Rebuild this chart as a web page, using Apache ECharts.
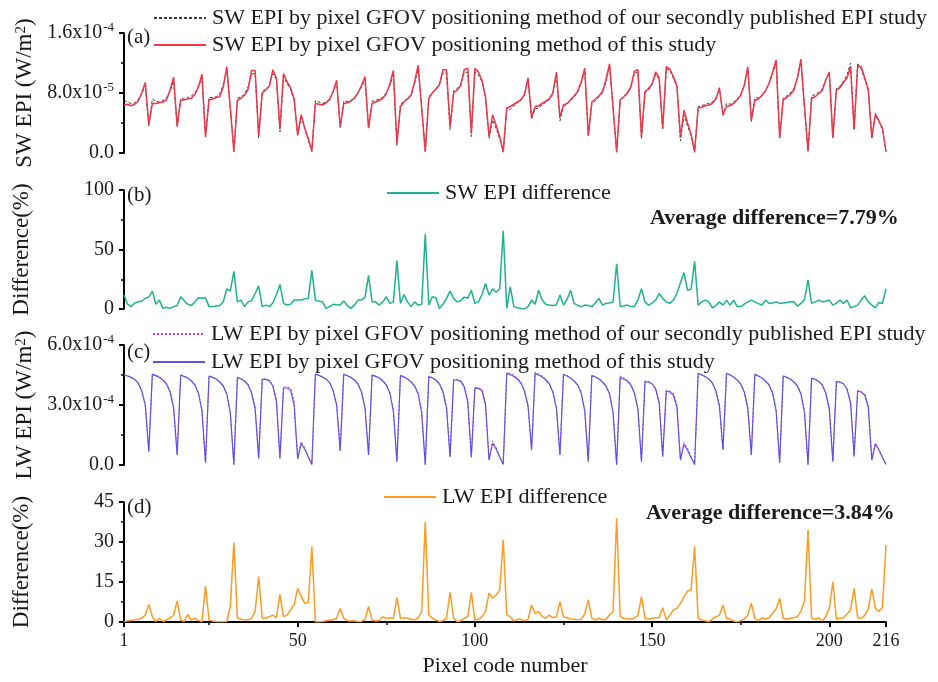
<!DOCTYPE html>
<html>
<head>
<meta charset="utf-8">
<script src="https://cdn.jsdelivr.net/npm/echarts@6/dist/echarts.min.js"></script>
<style>
  html, body { margin: 0; background: #fff; }
  #chart { width: 938px; height: 682px; }
</style>
</head>
<body>
<div id="chart"></div>
<script>
// pixel code numbers 1..216 (x positions)
const pixelCodes = Array.from({ length: 216 }, (_, i) => i + 1);
const xLabels = [1, 50, 100, 150, 200, 216];
const xMinorTicks = [25, 75, 125, 175];

// (a) SW EPI, units of 1e-5 W/m2 — secondly published study (dashed)
const swPrev = [
  7.0, 6.8, 6.6, 6.7, 7.1, 7.9, 9.0, 3.6,  7.2, 6.9, 6.8, 7.0, 7.4, 8.2, 9.6, 3.5,
  7.3, 7.2, 7.4, 7.6, 8.0, 8.9, 10.0, 2.2,  7.4, 7.4, 7.5, 7.9, 9.1, 11.0, 6.0, 0.2,
  7.3, 7.5, 7.8, 8.8, 10.5, 10.6, 2.0,  8.2, 8.5, 9.0, 10.6, 9.8, 2.8,
  10.2, 9.3, 8.5, 7.0, 2.3,  5.0, 3.2, 1.7, 0.2,
  7.0, 6.8, 6.6, 6.8, 7.2, 8.1, 9.4, 3.4,  6.9, 6.9, 7.0, 7.4, 8.0, 8.8, 9.8, 3.4,
  6.9, 7.0, 7.2, 7.4, 8.0, 9.0, 10.4, 1.0,  6.5, 6.9, 7.3, 7.8, 9.3, 11.2, 5.9, 0.1,
  7.5, 8.0, 8.6, 9.2, 10.7, 10.6, 3.1,  8.3, 8.6, 9.1, 10.7, 10.8, 2.2,
  10.8, 10.4, 9.5, 7.3, 2.0,  4.4, 3.3, 1.9, 0.1,
  6.0, 5.8, 6.3, 6.7, 7.0, 7.7, 9.9, 4.5,  5.9, 6.0, 6.4, 6.8, 7.1, 7.9, 10.5, 4.3,
  6.2, 6.5, 7.0, 7.5, 8.1, 9.3, 11.0, 2.2,  6.6, 7.0, 7.5, 8.0, 9.5, 11.5, 5.8, 0.1,
  7.0, 7.4, 7.9, 8.7, 10.6, 10.8, 1.9,  8.0, 8.4, 9.1, 10.5, 9.8, 3.1,
  11.2, 11.0, 10.0, 8.8, 1.6,  5.0, 3.6, 2.3, 0.1,
  6.2, 6.3, 6.5, 6.6, 6.8, 7.3, 8.7, 5.0,  6.6, 6.5, 6.8, 7.2, 7.8, 9.0, 11.2, 4.2,
  7.3, 7.4, 7.6, 8.3, 9.2, 10.6, 12.0, 2.0,  7.3, 7.6, 8.0, 8.6, 10.0, 12.1, 6.0, 0.2,
  7.6, 7.8, 8.1, 8.5, 9.8, 10.6, 2.1,  8.6, 8.9, 9.6, 10.4, 12.0, 3.2,
  12.0, 11.2, 9.8, 8.3, 2.0,  5.3, 4.2, 3.1, 0.2
];

// (a) SW EPI, units of 1e-5 W/m2 — this study
const swThis = [
  6.4, 6.5, 6.3, 6.5, 6.9, 8.0, 9.4, 3.8,  6.6, 6.6, 6.7, 6.8, 7.1, 8.4, 10.1, 3.6,
  7.0, 7.1, 7.2, 7.3, 7.8, 8.8, 10.5, 2.1,  7.1, 7.2, 7.4, 7.5, 8.8, 11.5, 6.0, 0.2,
  7.0, 7.3, 7.7, 8.5, 11.0, 11.0, 2.3,  8.0, 8.4, 8.9, 11.1, 10.0, 3.2,
  10.6, 9.5, 8.7, 7.2, 2.4,  5.1, 3.3, 1.9, 0.3,
  6.6, 6.5, 6.4, 6.7, 7.1, 8.2, 9.7, 3.5,  6.6, 6.7, 6.9, 7.3, 8.0, 9.0, 10.2, 3.3,
  6.6, 6.8, 7.0, 7.3, 7.9, 9.2, 11.0, 1.3,  6.2, 6.8, 7.2, 7.7, 9.5, 11.7, 6.0, 0.2,
  7.3, 8.0, 8.5, 9.1, 11.1, 11.1, 3.5,  8.0, 8.4, 9.0, 11.1, 11.3, 2.6,
  11.3, 10.8, 9.7, 7.5, 2.2,  5.1, 3.7, 2.2, 0.2,
  6.0, 6.2, 6.5, 6.8, 7.1, 7.8, 10.0, 4.8,  6.2, 6.3, 6.6, 6.9, 7.2, 8.0, 10.8, 4.8,
  6.4, 6.6, 7.1, 7.6, 8.2, 9.5, 11.3, 2.3,  6.8, 7.2, 7.6, 8.2, 9.8, 11.9, 6.0, 0.2,
  7.1, 7.5, 8.0, 8.8, 10.9, 11.1, 2.2,  8.2, 8.6, 9.2, 10.8, 10.0, 3.3,
  11.5, 11.2, 10.2, 9.0, 2.2,  5.7, 4.0, 2.5, 0.2,
  6.0, 6.1, 6.3, 6.4, 6.6, 7.2, 8.6, 5.1,  6.2, 6.3, 6.6, 7.1, 7.7, 9.0, 11.5, 4.4,
  7.0, 7.2, 7.7, 8.3, 9.3, 10.8, 12.4, 2.0,  7.1, 7.4, 7.8, 8.4, 10.0, 12.5, 6.2, 0.2,
  7.3, 7.5, 7.9, 8.3, 9.7, 10.8, 2.0,  8.4, 8.7, 9.4, 10.0, 11.5, 3.1,
  11.5, 11.5, 10.0, 8.5, 2.0,  5.1, 4.3, 3.3, 0.2
];

// (b) SW EPI difference, %
const swDiff = [
  11.7, 4.0, 2.0, 5.0, 6.0, 6.5, 9.0, 10.0, 15.0, 4.0, 7.5, 0.5, 1.5, 0.5, 2.0, 3.0,
  10.3, 7.0, 4.0, 3.0, 6.0, 9.4, 9.0, 9.4, 2.0, 2.0, 2.5, 3.0, 6.0, 17.0, 15.0, 31.7,
  6.0, 7.5, 2.0, 6.0, 7.0, 13.0, 19.4, 2.0, 3.3, 2.0, 5.0, 12.0, 20.6,
  4.7, 3.3, 4.0, 7.5, 7.5, 7.5, 8.5, 9.0, 32.5,
  7.5, 6.5, 6.0, 0.5, 2.0, 3.9, 3.5, 3.3, 6.7, 3.0, 0.5, 3.0, 7.5, 7.5, 10.0, 28.3,
  6.0, 6.0, 3.3, 6.0, 10.3, 4.7, 6.0, 40.8, 4.7, 12.2, 6.0, 2.0, 6.0, 3.3, 4.0, 63.0,
  3.3, 10.3, 9.4, 0.5, 4.0, 8.9, 15.0, 8.9, 6.0, 7.0, 10.0, 9.0, 15.8,
  4.7, 6.0, 12.0, 21.4, 11.7, 17.0, 14.0, 17.0, 65.8,
  0.5, 18.6, 2.0, 1.0, 0.5, 0.0, 2.0, 7.5, 4.0, 15.8, 7.5, 4.0, 3.3, 3.0, 3.3, 11.7,
  3.3, 8.0, 15.8, 4.7, 3.0, 2.0, 3.3, 3.0, 2.0, 5.0, 8.9, 3.3, 4.7, 5.0, 6.0, 38.0,
  2.0, 2.5, 3.3, 2.0, 2.0, 7.5, 17.0, 6.0, 3.3, 5.0, 7.5, 13.0, 8.9,
  6.0, 4.7, 7.5, 13.0, 22.0, 30.6, 15.8, 16.7, 40.0,
  3.3, 6.0, 7.5, 6.0, 1.0, 3.0, 6.0, 3.3, 7.5, 3.3, 7.5, 2.0, 2.0, 4.0, 6.0, 7.5,
  6.0, 4.5, 3.3, 7.5, 4.7, 5.0, 6.0, 4.7, 5.0, 5.5, 6.0, 6.0, 2.5, 4.7, 8.0, 24.2,
  4.7, 6.0, 7.5, 6.0, 6.5, 7.5, 3.3, 5.0, 7.5, 4.7, 7.5, 1.0, 2.0,
  3.3, 7.5, 11.1, 6.0, 3.3, 1.0, 5.5, 4.7, 17.0
];

// (c) LW EPI, units of 1e-4 W/m2 — secondly published study (dotted)
const lwPrev = [
  4.50, 4.46, 4.39, 4.30, 4.12, 3.72, 3.05, 0.70,  4.55, 4.50, 4.40, 4.27, 4.07, 3.70, 2.90, 0.55,
  4.52, 4.44, 4.36, 4.22, 4.03, 3.62, 2.74, 0.13,  4.46, 4.39, 4.31, 4.16, 3.97, 3.58, 2.65, 0.03,
  4.39, 4.32, 4.22, 4.03, 3.64, 2.90, 0.38,  4.30, 4.30, 4.25, 3.98, 3.25, 0.36,
  3.90, 3.92, 3.85, 3.20, 0.34,  1.18, 0.86, 0.43, 0.03,
  4.55, 4.48, 4.41, 4.31, 4.14, 3.74, 3.03, 0.74,  4.55, 4.47, 4.39, 4.27, 4.07, 3.67, 2.88, 0.53,
  4.51, 4.45, 4.37, 4.24, 4.04, 3.64, 2.74, 0.19,  4.49, 4.42, 4.32, 4.17, 3.98, 3.60, 2.70, 0.03,
  4.44, 4.37, 4.27, 4.08, 3.70, 2.90, 0.45,  4.28, 4.28, 4.22, 3.98, 3.25, 0.42,
  3.88, 3.86, 3.80, 3.12, 0.28,  1.20, 0.88, 0.45, 0.03,
  4.62, 4.58, 4.50, 4.35, 4.12, 3.72, 2.98, 0.80,  4.65, 4.56, 4.46, 4.30, 4.08, 3.68, 2.88, 0.54,
  4.55, 4.47, 4.37, 4.22, 4.02, 3.62, 2.75, 0.18,  4.49, 4.42, 4.32, 4.17, 3.97, 3.58, 2.66, 0.03,
  4.45, 4.38, 4.25, 4.03, 3.63, 2.85, 0.19,  4.20, 4.18, 4.08, 3.85, 3.20, 0.44,
  3.73, 3.70, 3.60, 3.05, 0.28,  1.13, 0.84, 0.43, 0.03,
  4.59, 4.51, 4.43, 4.31, 4.12, 3.72, 2.98, 0.80,  4.59, 4.51, 4.41, 4.26, 4.07, 3.68, 2.88, 0.53,
  4.54, 4.46, 4.36, 4.22, 4.03, 3.64, 2.78, 0.13,  4.46, 4.39, 4.31, 4.17, 3.98, 3.62, 2.74, 0.03,
  4.35, 4.30, 4.20, 4.02, 3.64, 2.87, 0.20,  4.18, 4.16, 4.07, 3.83, 3.15, 0.47,
  3.72, 3.68, 3.54, 2.98, 0.28,  1.10, 0.78, 0.40, 0.03
];

// (c) LW EPI, units of 1e-4 W/m2 — this study
const lwThis = [
  4.50, 4.45, 4.38, 4.28, 4.10, 3.70, 3.00, 0.67,  4.53, 4.47, 4.38, 4.25, 4.05, 3.65, 2.85, 0.50,
  4.50, 4.42, 4.35, 4.20, 4.00, 3.60, 2.70, 0.12,  4.45, 4.38, 4.30, 4.15, 3.95, 3.55, 2.60, 0.02,
  4.37, 4.30, 4.20, 4.00, 3.60, 2.80, 0.33,  4.28, 4.28, 4.22, 3.95, 3.20, 0.33,
  3.85, 3.85, 3.75, 3.00, 0.30,  1.08, 0.80, 0.40, 0.02,
  4.55, 4.48, 4.40, 4.30, 4.12, 3.72, 3.00, 0.70,  4.53, 4.46, 4.38, 4.25, 4.05, 3.65, 2.85, 0.50,
  4.50, 4.43, 4.35, 4.20, 4.00, 3.60, 2.70, 0.17,  4.47, 4.40, 4.30, 4.15, 3.95, 3.55, 2.60, 0.02,
  4.42, 4.35, 4.25, 4.05, 3.65, 2.85, 0.40,  4.25, 4.25, 4.18, 3.90, 3.15, 0.38,
  3.85, 3.83, 3.72, 3.00, 0.25,  1.10, 0.80, 0.40, 0.02,
  4.60, 4.52, 4.42, 4.30, 4.10, 3.70, 2.95, 0.75,  4.58, 4.50, 4.40, 4.25, 4.05, 3.65, 2.85, 0.50,
  4.53, 4.45, 4.35, 4.20, 4.00, 3.60, 2.70, 0.17,  4.47, 4.40, 4.30, 4.15, 3.95, 3.55, 2.60, 0.02,
  4.38, 4.30, 4.20, 4.00, 3.60, 2.80, 0.17,  4.17, 4.15, 4.05, 3.80, 3.10, 0.42,
  3.70, 3.65, 3.50, 2.90, 0.25,  1.03, 0.75, 0.38, 0.02,
  4.58, 4.50, 4.42, 4.30, 4.10, 3.70, 2.95, 0.75,  4.58, 4.50, 4.40, 4.25, 4.05, 3.65, 2.85, 0.50,
  4.53, 4.45, 4.35, 4.20, 4.00, 3.60, 2.70, 0.12,  4.45, 4.38, 4.30, 4.15, 3.95, 3.55, 2.60, 0.02,
  4.33, 4.28, 4.18, 4.00, 3.60, 2.80, 0.17,  4.17, 4.15, 4.05, 3.80, 3.10, 0.42,
  3.70, 3.65, 3.50, 2.90, 0.25,  1.05, 0.75, 0.38, 0.02
];

// (d) LW EPI difference, %
const lwDiff = [
  0.1, 0.5, 0.6, 0.8, 1.0, 1.5, 2.6, 6.6,  2.0, 0.2, 1.4, 0.2, 0.8, 1.5, 2.5, 7.9,
  0.7, 0.2, 2.9, 0.7, 1.4, 0.6, 0.1, 13.5,  0.7, 0.4, 0.2, 0.1, 0.1, 0.2, 5.8, 29.8,
  1.4, 1.0, 0.8, 0.8, 1.4, 4.0, 17.0,  1.4, 1.5, 2.0, 2.6, 1.6, 10.4,
  2.0, 2.6, 4.5, 6.4, 12.6,  9.5, 7.0, 7.4, 28.3,
  0.0, 0.1, 0.2, 0.5, 0.7, 0.8, 1.4, 5.1,  1.4, 0.5, 0.4, 0.5, 0.1, 0.2, 1.0, 5.8,
  0.8, 0.4, 0.6, 2.0, 1.4, 1.6, 1.4, 9.1,  1.4, 1.6, 1.4, 1.0, 0.8, 1.5, 3.9, 37.6,
  2.6, 1.4, 0.8, 0.2, 0.5, 1.5, 11.1,  1.4, 0.1, 0.5, 1.4, 2.0, 11.1,
  0.8, 1.0, 2.0, 3.9, 10.8,  8.9, 10.1, 12.0, 30.8,
  2.6, 2.0, 0.4, 1.0, 1.0, 0.4, 1.0, 6.4,  3.3, 3.9, 2.0, 1.4, 2.6, 1.6, 2.0, 7.6,
  2.0, 1.6, 1.1, 1.0, 0.8, 1.0, 3.0, 8.3,  1.4, 0.8, 1.4, 0.8, 1.0, 2.6, 4.0, 38.9,
  2.0, 1.4, 1.2, 1.0, 1.5, 2.5, 9.5,  1.4, 1.1, 1.4, 1.6, 1.6, 5.4,
  0.8, 2.6, 4.5, 5.1, 7.0,  9.5, 11.6, 12.0, 28.3,
  1.4, 0.8, 0.5, 0.1, 1.1, 2.0, 2.5, 6.4,  1.4, 1.1, 0.4, 0.1, 0.5, 1.1, 2.5, 7.0,
  1.4, 0.4, 1.6, 1.1, 1.6, 3.3, 5.0, 8.9,  1.4, 1.0, 1.4, 1.6, 2.0, 4.0, 8.0, 34.5,
  1.4, 1.0, 1.6, 0.4, 2.0, 5.1, 15.1,  1.1, 1.4, 1.6, 3.0, 4.5, 12.6,
  1.6, 1.4, 2.5, 5.0, 12.4,  5.1, 3.9, 5.5, 28.9
];

const names = {
  swPrev: 'SW EPI by pixel GFOV positioning method of our secondly published EPI study',
  swThis: 'SW EPI by pixel GFOV positioning method of this study',
  swDiff: 'SW EPI difference',
  lwPrev: 'LW EPI by pixel GFOV positioning method of our secondly published EPI study',
  lwThis: 'LW EPI by pixel GFOV positioning method of this study',
  lwDiff: 'LW EPI difference'
};

[swPrev, swThis, swDiff, lwPrev, lwThis, lwDiff].forEach((a, k) => {
  if (a.length !== pixelCodes.length) console.warn('series', k, 'has', a.length, 'values');
});

const FONT = '"Liberation Serif", "DejaVu Serif", serif';
const INK = '#1a1a1a';
const pairs = arr => pixelCodes.map((p, i) => [p, arr[i]]);

const supRich = {
  m: { fontSize: 20, fontFamily: FONT, color: INK, lineHeight: 24 },
  s: { fontSize: 13, fontFamily: FONT, color: INK, verticalAlign: 'top', lineHeight: 13, padding: [0, 0, 0, 1] }
};

function sciLabel(map) {
  return v => (map[v] !== undefined ? map[v] : '{m|' + v + '}');
}

function yAxis(grid, max, interval, name, nameGap, formatter) {
  return {
    type: 'value', gridIndex: grid, min: 0, max: max, interval: interval,
    name: name, nameLocation: 'middle', nameGap: nameGap,
    nameTextStyle: {
      fontFamily: FONT, fontSize: 23, color: INK,
      rich: { sup: { fontSize: 15, fontFamily: FONT, color: INK, verticalAlign: 'top' } }
    },
    axisLine: { show: true, lineStyle: { color: '#000', width: 2 } },
    axisTick: { show: true, length: 5, lineStyle: { color: '#000', width: 2 } },
    minorTick: { show: true, splitNumber: 2, length: 3, lineStyle: { color: '#000', width: 1.5 } },
    splitLine: { show: false },
    axisLabel: { margin: 10, fontFamily: FONT, fontSize: 20, color: INK, formatter: formatter, rich: supRich }
  };
}

function hiddenX(grid) {
  return { type: 'value', gridIndex: grid, min: 1, max: 216, show: false };
}

function legend(item, left, top) {
  return {
    data: [item], left: left, top: top, padding: 0, itemWidth: 52, itemHeight: 14, itemGap: 0,
    itemStyle: { opacity: 0 },
    textStyle: { fontFamily: FONT, fontSize: 22, color: INK, padding: [0, 0, 0, 1] },
    selectedMode: false
  };
}

function line(name, x, y, arr, color, width, type, z) {
  return {
    name: name, type: 'line', xAxisIndex: x, yAxisIndex: y, data: pairs(arr),
    symbol: 'none', showSymbol: false, animation: false, z: z,
    lineStyle: { color: color, width: width, type: type },
    itemStyle: { color: color }
  };
}

const chart = echarts.init(document.getElementById('chart'), null, { renderer: 'canvas' });

chart.setOption({
  backgroundColor: '#ffffff',
  animation: false,
  grid: [
    { left: 124, width: 762, top: 33, height: 120 },
    { left: 124, width: 762, top: 190, height: 119 },
    { left: 124, width: 762, top: 345, height: 120 },
    { left: 124, width: 762, top: 502, height: 120 }
  ],
  xAxis: [
    hiddenX(0), hiddenX(1), hiddenX(2),
    {
      type: 'value', gridIndex: 3, min: 1, max: 216,
      name: 'Pixel code number', nameLocation: 'middle', nameGap: 33,
      nameTextStyle: { fontFamily: FONT, fontSize: 22, color: INK },
      axisLine: { show: true, lineStyle: { color: '#000', width: 2 } },
      axisTick: { show: true, length: 5, customValues: xLabels, lineStyle: { color: '#000', width: 2 } },
      axisLabel: { margin: 10, customValues: xLabels, fontFamily: FONT, fontSize: 18, color: INK },
      splitLine: { show: false }
    },
    {
      type: 'value', gridIndex: 3, min: 1, max: 216, position: 'bottom',
      axisLine: { show: false },
      axisTick: { show: true, length: 3, customValues: xMinorTicks, lineStyle: { color: '#000', width: 1.5 } },
      axisLabel: { show: false },
      splitLine: { show: false }
    }
  ],
  yAxis: [
    yAxis(0, 16, 8, 'SW EPI (W/m{sup|2})', 86,
      sciLabel({ 0: '{m|0.0}', 8: '{m|8.0x10}{s|-5}', 16: '{m|1.6x10}{s|-4}' })),
    yAxis(1, 100, 50, 'Difference(%)', 91, sciLabel({})),
    yAxis(2, 6, 3, 'LW EPI (W/m{sup|2})', 86,
      sciLabel({ 0: '{m|0.0}', 3: '{m|3.0x10}{s|-4}', 6: '{m|6.0x10}{s|-4}' })),
    yAxis(3, 45, 15, 'Difference(%)', 91, sciLabel({}))
  ],
  legend: [
    legend(names.swPrev, 153, 7),
    legend(names.swThis, 153, 34),
    legend(names.swDiff, 386, 182),
    legend(names.lwPrev, 152, 323),
    legend(names.lwThis, 152, 351),
    legend(names.lwDiff, 383, 486)
  ],
  series: [
    line(names.swPrev, 0, 0, swPrev, '#3a3a3a', 1, [3, 2], 2),
    line(names.swThis, 0, 0, swThis, '#f2364a', 1.5, 'solid', 3),
    line(names.swDiff, 1, 1, swDiff, '#1db38c', 1.5, 'solid', 3),
    line(names.lwPrev, 2, 2, lwPrev, '#e8379b', 1, [2, 2], 2),
    line(names.lwThis, 2, 2, lwThis, '#5d50ee', 1.2, 'solid', 3),
    line(names.lwDiff, 3, 3, lwDiff, '#ff9a22', 1.5, 'solid', 3)
  ],
  graphic: [
    { type: 'text', left: 127, top: 27, style: { text: '(a)', font: '21px ' + FONT, fill: INK } },
    { type: 'text', left: 127, top: 185, style: { text: '(b)', font: '21px ' + FONT, fill: INK } },
    { type: 'text', left: 127, top: 342, style: { text: '(c)', font: '21px ' + FONT, fill: INK } },
    { type: 'text', left: 127, top: 497, style: { text: '(d)', font: '21px ' + FONT, fill: INK } },
    { type: 'text', left: 650, top: 207, style: { text: 'Average difference=7.79%', font: 'bold 22px ' + FONT, fill: INK } },
    { type: 'text', left: 646, top: 502, style: { text: 'Average difference=3.84%', font: 'bold 22px ' + FONT, fill: INK } }
  ]
});
</script>
</body>
</html>
